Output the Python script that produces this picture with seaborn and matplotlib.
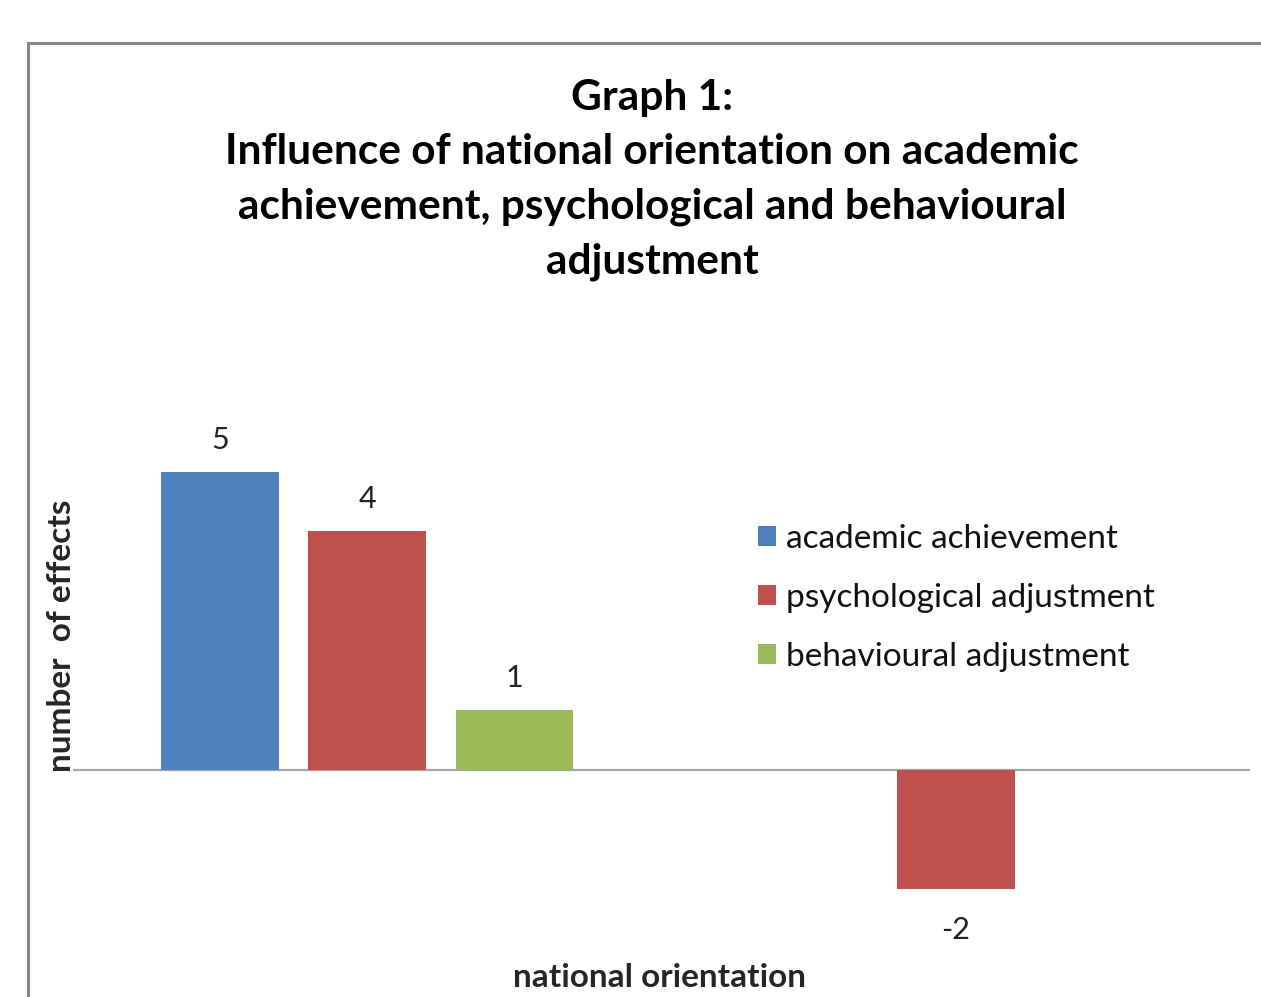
import pandas as pd
import seaborn as sns
import matplotlib
matplotlib.use("Agg")
import matplotlib.pyplot as plt
from matplotlib.patches import Rectangle

# categories on the x axis (their labels are hidden in the original chart)
categories = ["positive", "negative"]
series = ["academic achievement", "psychological adjustment", "behavioural adjustment"]
colors = ["#4F81BD", "#C0504D", "#9BBB59"]

# one row per drawn bar
bar_category = ["positive", "positive", "positive", "negative"]
bar_series = ["academic achievement", "psychological adjustment",
              "behavioural adjustment", "psychological adjustment"]
bar_value = [5, 4, 1, -2]

title = ("Graph 1:\nInfluence of national orientation on academic\n"
         "achievement, psychological and behavioural\nadjustment")

sns.set_theme(style="white")
plt.rcParams["font.family"] = ["Lato", "DejaVu Sans"]

df = pd.DataFrame({"category": bar_category, "series": bar_series, "value": bar_value})

fig = plt.figure(figsize=(12.61, 9.97), dpi=100)
ax = fig.add_axes([0.0579, 0.0481, 0.9334, 0.5387])

sns.barplot(data=df, x="category", y="value", hue="series", order=categories,
            hue_order=series, palette=colors, width=0.75, gap=0.2,
            saturation=1, errorbar=None, linewidth=0, ax=ax)

for cont in ax.containers:
    texts = ax.bar_label(cont, fmt="%g", padding=13, fontsize=22, color="#222222")
    # labels under negative bars sit a little further away
    for t, bar in zip(texts, cont):
        if bar.get_height() < 0:
            t.set_position((0, -19.5))

ax.set_ylim(-3, 6)
ax.axhline(0, color="#A6A6A6", lw=1.6, zorder=0.5)
for s in ax.spines.values():
    s.set_visible(False)
ax.set_xticks([])
ax.set_yticks([])
ax.set_xlabel("")
ax.set_ylabel("")

leg = ax.legend(loc="upper left", bbox_to_anchor=(0.582, 0.792), frameon=False,
                fontsize=24, handlelength=0.54, handleheight=0.54,
                handletextpad=0.3, labelspacing=0.87, borderaxespad=0,
                borderpad=0)
for t in leg.get_texts():
    t.set_color("#111111")

fig.text(0.517, 0.8195, title, ha="center", va="center", fontsize=30.5,
         fontweight="bold", linespacing=1.53, color="#000000")
fig.text(0.523, 0.020, "national orientation", ha="center", va="center",
         fontsize=24, fontweight="bold")
fig.text(0.049, 0.362, "number  of effects", ha="center", va="center",
         rotation=90, fontsize=24, fontweight="bold")

# outer chart-area border running off the right and bottom edges
fig.patches.append(Rectangle((28 / 1261, -0.1), 1.2, 0.1 + (1 - 43 / 997),
                             transform=fig.transFigure, fill=False,
                             edgecolor="#878787", lw=2.2))

fig.savefig("out.png", dpi=100)
